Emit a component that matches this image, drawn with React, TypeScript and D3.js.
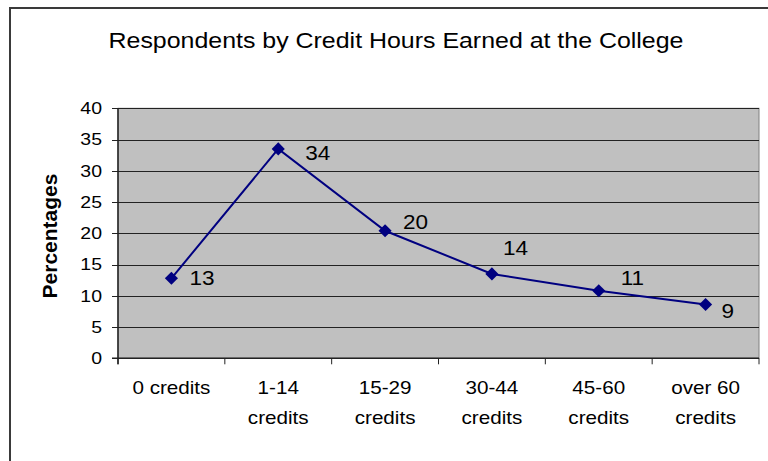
import React from "react";
import * as d3 from "d3";

const categories: string[][] = [
  ["0 credits"],
  ["1-14", "credits"],
  ["15-29", "credits"],
  ["30-44", "credits"],
  ["45-60", "credits"],
  ["over 60", "credits"],
];
const values: number[] = [12.8, 33.5, 20.4, 13.5, 10.8, 8.6];
const yTicks: number[] = [0, 5, 10, 15, 20, 25, 30, 35, 40];
const title = "Respondents by Credit Hours Earned at the College";
const yTitle = "Percentages";

// label placement offsets (px) relative to marker: [dx to left edge, dy to centre]
const labelOffsets: [number, number][] = [
  [18, 0],
  [27, 4],
  [18, -9],
  [11, -26],
  [22, -13],
  [16, 6],
];

const W = 768;
const H = 461;
const plot = { left: 118, right: 759, top: 108.3, bottom: 358.3 };
const FONT = "'Liberation Sans', Arial, Helvetica, sans-serif";
const SX = 1.18;

function T(props: {
  x: number;
  y: number;
  size: number;
  anchor?: string;
  weight?: string;
  sx?: number;
  children: React.ReactNode;
}) {
  const { x, y, size, anchor = "start", weight = "normal", sx = SX } = props;
  return (
    <g transform={`translate(${x},${y}) scale(${sx},1)`}>
      <text
        x={0}
        y={size * 0.35}
        fontSize={size}
        fontFamily={FONT}
        fontWeight={weight}
        textAnchor={anchor}
        fill="#000"
      >
        {props.children}
      </text>
    </g>
  );
}

export default function App() {
  const x = d3
    .scaleBand<number>()
    .domain(d3.range(categories.length))
    .range([plot.left, plot.right])
    .paddingInner(0)
    .paddingOuter(0);
  const y = d3.scaleLinear().domain([0, 40]).range([plot.bottom, plot.top]);
  const cx = (i: number) => (x(i) as number) + x.bandwidth() / 2;

  const line = d3
    .line<number>()
    .x((_, i) => cx(i))
    .y((d) => y(d));

  const boundaries = d3.range(categories.length + 1).map((i) => plot.left + i * x.bandwidth());
  const diamond = d3.symbol().type(d3.symbolDiamond2).size(110)() as string;

  return (
    <svg
      width={W}
      height={H}
      style={{ position: "absolute", left: 0, top: 0, background: "#fff" }}
    >
      <rect x={0} y={0} width={W} height={H} fill="#fff" />
      <rect x={10} y={8} width={800} height={500} fill="none" stroke="#3a3a3a" strokeWidth={2} />

      <T x={396} y={40} size={21.5} anchor="middle" sx={1.16}>
        {title}
      </T>

      {/* plot area */}
      <rect
        x={plot.left}
        y={plot.top}
        width={plot.right - plot.left}
        height={plot.bottom - plot.top}
        fill="#c0c0c0"
        stroke="#808080"
        strokeWidth={1}
      />
      {yTicks.map((t) => (
        <line
          key={"g" + t}
          x1={plot.left}
          x2={plot.right}
          y1={Math.round(y(t)) + 0.5}
          y2={Math.round(y(t)) + 0.5}
          stroke="#222"
          strokeWidth={1}
        />
      ))}
      {/* axes */}
      <line x1={plot.left} x2={plot.left} y1={plot.top} y2={plot.bottom + 6} stroke="#222" strokeWidth={1.5} />
      <line x1={plot.left - 6} x2={plot.right} y1={plot.bottom} y2={plot.bottom} stroke="#222" strokeWidth={1.5} />
      {yTicks.map((t) => (
        <line
          key={"yt" + t}
          x1={plot.left - 6}
          x2={plot.left}
          y1={Math.round(y(t)) + 0.5}
          y2={Math.round(y(t)) + 0.5}
          stroke="#222"
          strokeWidth={1}
        />
      ))}
      {boundaries.map((b, i) => (
        <line key={"xt" + i} x1={b} x2={b} y1={plot.bottom} y2={plot.bottom + 6} stroke="#222" strokeWidth={1} />
      ))}

      {yTicks.map((t) => (
        <T key={"yl" + t} x={102} y={y(t)} size={16.5} anchor="end">
          {t}
        </T>
      ))}

      {categories.map((lines, i) =>
        lines.map((ln, j) => (
          <T key={"xl" + i + j} x={cx(i)} y={388 + j * 30} size={17.5} anchor="middle">
            {ln}
          </T>
        ))
      )}

      <text
        transform={`translate(57,236) rotate(-90)`}
        fontSize={21}
        fontWeight="bold"
        fontFamily={FONT}
        textAnchor="middle"
        fill="#000"
      >
        {yTitle}
      </text>

      <path d={line(values) as string} fill="none" stroke="#000080" strokeWidth={2} />
      {values.map((v, i) => (
        <path key={"m" + i} d={diamond} transform={`translate(${cx(i)},${y(v)})`} fill="#000080" />
      ))}
      {values.map((v, i) => (
        <T key={"dl" + i} x={cx(i) + labelOffsets[i][0]} y={y(v) + labelOffsets[i][1]} size={20.5} sx={1.1}>
          {Math.round(v)}
        </T>
      ))}
    </svg>
  );
}
